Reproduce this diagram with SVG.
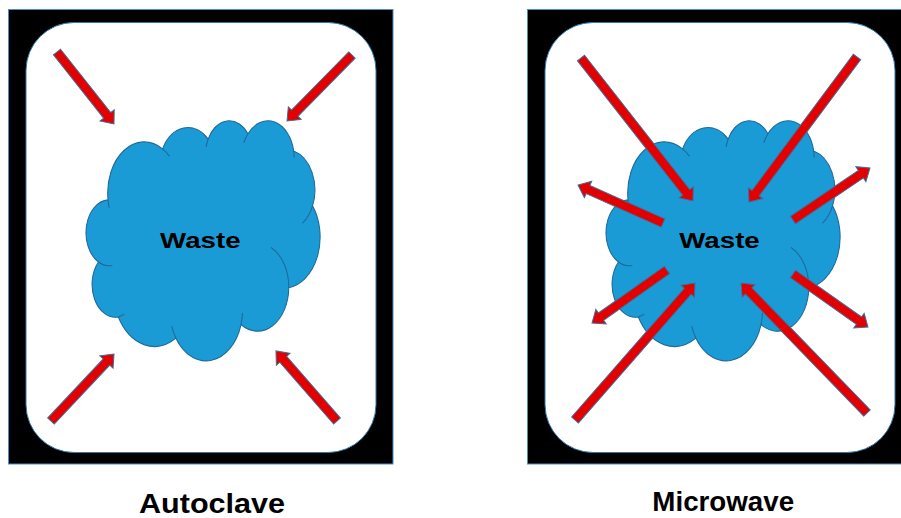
<svg xmlns="http://www.w3.org/2000/svg" xmlns:xlink="http://www.w3.org/1999/xlink" width="901" height="518" viewBox="0 0 901 518">
<style>
.frame{fill:#000;stroke:#4a8fbf;stroke-width:1}
.inner{fill:#fff;stroke:#2f79a8;stroke-width:1}
.cloud{fill:#1b9bd6;stroke:#1f6a98;stroke-width:200}
.crease{fill:none;stroke:#1f6a98;stroke-width:200}
.arrow{fill:#e20000;stroke:#3a6f9c;stroke-width:1;stroke-linejoin:miter}
.waste{font-family:"Liberation Sans",Arial,sans-serif;font-weight:bold;font-size:22px;fill:#000;text-anchor:middle}
.label{font-family:"Liberation Sans",Arial,sans-serif;font-weight:bold;font-size:27px;fill:#000;text-anchor:middle}
</style>
<defs>
<g id="cloudShape">
<path class="cloud" d="M3900,14370 A6753,9190 0 0 1 14005,5202 A5333,7267 0 0 1 22456,3432 A4365,5945 0 0 1 29833,2483 A4857,6595 0 0 1 38318,5577 A5333,7273 0 0 1 41819,15461 A6775,9220 0 0 1 37405,30203 A5785,7867 0 0 1 28555,36811 A6752,9215 0 0 1 16481,39265 A7720,10543 0 0 1 5808,35472 A4360,5918 0 0 1 2116,25551 A4345,5945 0 0 1 3900,14370 Z"/>
<path class="crease" d="M4693,26177 A4345,5945 0 0 1 2116,25551 M6928,34899 A4360,5918 0 0 1 5808,35472 M16481,39265 A6752,9215 0 0 1 15704,37120 M28827,34751 A6752,9215 0 0 1 28555,36811 M34129,22954 A5785,7867 0 0 1 37405,30203 M41819,15461 A5333,7273 0 0 1 39962,18567 M38318,5577 A4857,6595 0 0 1 38395,6815 M29091,4095 A4857,6595 0 0 1 29833,2483 M22096,4824 A4365,5945 0 0 1 22456,3432 M14005,5202 A6753,9190 0 0 1 15304,6547 M4126,15802 A6753,9190 0 0 1 3900,14370"/>
</g>
</defs>

<g id="autoclave-panel">
<rect class="frame" x="8.5" y="9.5" width="384.5" height="454.5"/>
<rect class="inner" x="26" y="22.5" width="350" height="430" rx="48" ry="48"/>
</g>
<g id="microwave-panel">
<rect class="frame" x="527.5" y="9.5" width="385" height="454.5"/>
<rect class="inner" x="545" y="22.5" width="350" height="430" rx="48" ry="48"/>
</g>

<g id="waste-autoclave">
<use xlink:href="#cloudShape" href="#cloudShape" transform="translate(87,120) scale(0.0053935,0.0055556)"/>
<text class="waste" x="200.3" y="248.3" textLength="80.5" lengthAdjust="spacingAndGlyphs">Waste</text>
</g>
<g id="waste-microwave">
<use xlink:href="#cloudShape" href="#cloudShape" transform="translate(607,120) scale(0.0053935,0.0055556)"/>
<text class="waste" x="719.5" y="248.3" textLength="80.5" lengthAdjust="spacingAndGlyphs">Waste</text>
</g>

<g id="connectors">
<polygon class="arrow" transform="translate(57,52) rotate(51.63)" points="0,-4.5 80.8,-4.5 80.8,-9 91.8,0 80.8,9 80.8,4.5 0,4.5"/>
<polygon class="arrow" transform="translate(352,55) rotate(134.56)" points="0,-4.5 81.6,-4.5 81.6,-9 92.6,0 81.6,9 81.6,4.5 0,4.5"/>
<polygon class="arrow" transform="translate(51,421) rotate(-46.76)" points="0,-4.5 81,-4.5 81,-9 92,0 81,9 81,4.5 0,4.5"/>
<polygon class="arrow" transform="translate(337,421) rotate(-131.07)" points="0,-4.5 81.9,-4.5 81.9,-9 92.9,0 81.9,9 81.9,4.5 0,4.5"/>
<polygon class="arrow" transform="translate(581,58) rotate(51.93)" points="0,-4.5 170.6,-4.5 170.6,-9 181.6,0 170.6,9 170.6,4.5 0,4.5"/>
<polygon class="arrow" transform="translate(857,57) rotate(126.68)" points="0,-4.5 169.8,-4.5 169.8,-9 180.8,0 169.8,9 169.8,4.5 0,4.5"/>
<polygon class="arrow" transform="translate(663,223) rotate(-155.91)" points="0,-4.5 82.1,-4.5 82.1,-9 93.1,0 82.1,9 82.1,4.5 0,4.5"/>
<polygon class="arrow" transform="translate(793,220) rotate(-34.03)" points="0,-4.5 81.9,-4.5 81.9,-9 92.9,0 81.9,9 81.9,4.5 0,4.5"/>
<polygon class="arrow" transform="translate(667,270) rotate(144.75)" points="0,-4.5 80.8,-4.5 80.8,-9 91.8,0 80.8,9 80.8,4.5 0,4.5"/>
<polygon class="arrow" transform="translate(793,274) rotate(35.25)" points="0,-4.5 80.8,-4.5 80.8,-9 91.8,0 80.8,9 80.8,4.5 0,4.5"/>
<polygon class="arrow" transform="translate(575,420) rotate(-48.79)" points="0,-4.5 171.1,-4.5 171.1,-9 182.1,0 171.1,9 171.1,4.5 0,4.5"/>
<polygon class="arrow" transform="translate(867,413) rotate(-134.11)" points="0,-4.5 170,-4.5 170,-9 181,0 170,9 170,4.5 0,4.5"/>
</g>

<text class="label" x="212" y="513.3" textLength="146" lengthAdjust="spacingAndGlyphs">Autoclave</text>
<text class="label" x="723.2" y="510.7" textLength="141.7" lengthAdjust="spacingAndGlyphs">Microwave</text>
</svg>
